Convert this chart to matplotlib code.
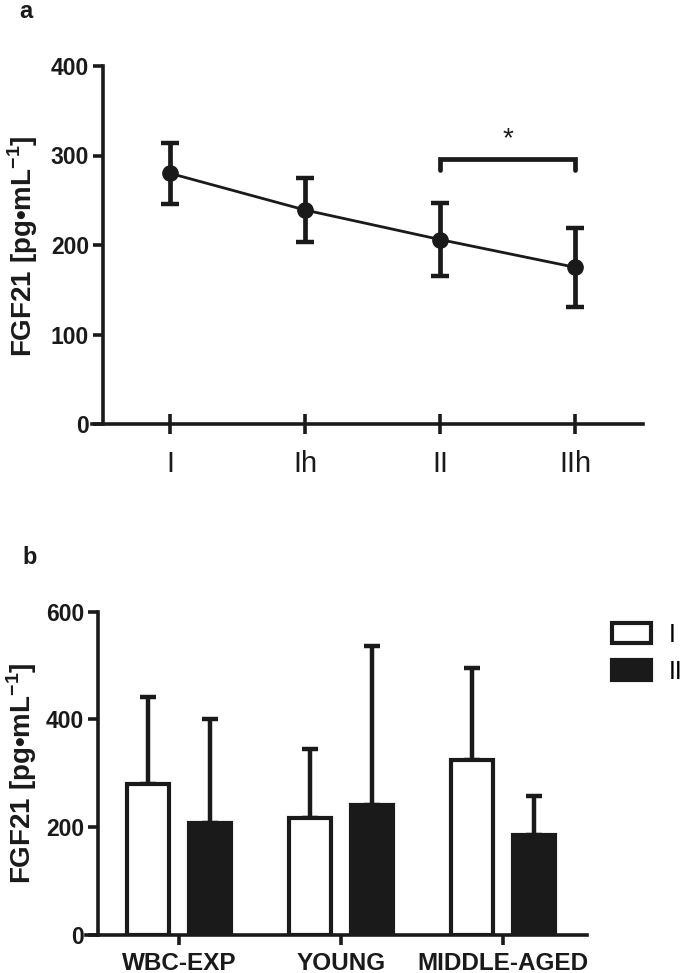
import matplotlib
matplotlib.use("Agg")
import matplotlib.pyplot as plt
import numpy as np

# panel a: time points, mean +/- error
time_labels = ["I", "Ih", "II", "IIh"]
time_mean = [280, 239, 206, 175]
time_err = [34, 36, 41, 44]

# panel b: groups, session I vs II (mean + upper error)
groups = ["WBC-EXP", "YOUNG", "MIDDLE-AGED"]
sess_i_mean = [280, 218, 325]
sess_i_err = [161, 127, 171]
sess_ii_mean = [208, 241, 185]
sess_ii_err = [192, 295, 73]

_INK = "#1a1a1a"

plt.rcParams["font.family"] = ["Liberation Sans", "DejaVu Sans"]
plt.rcParams["mathtext.fontset"] = "custom"
plt.rcParams["mathtext.rm"] = "Liberation Sans"
plt.rcParams["mathtext.bf"] = "Liberation Sans:bold"

YLABEL = "FGF21 [pg\u2022mL$^{\\mathbf{-1}}$]"

fig = plt.figure(figsize=(6.85, 9.73), dpi=100)


def _axes_style(a):
    a.spines["left"].set_position(("data", -0.5))
    a.spines["top"].set_visible(False)
    a.spines["right"].set_visible(False)
    for s in ("left", "bottom"):
        a.spines[s].set_linewidth(2.6)
        a.spines[s].set_color(_INK)
    a.tick_params(axis="y", direction="out", length=7, width=2.6, color=_INK,
                  pad=3, labelsize=16.5)
    for lbl in a.get_yticklabels():
        lbl.set_fontweight("bold")
        lbl.set_color(_INK)


# ---------- panel a ----------
ax = fig.add_axes([92 / 685, (973 - 424) / 973, 551 / 685, 358 / 973])
x = np.arange(len(time_labels))
ax.errorbar(x, time_mean, yerr=time_err, color=_INK, lw=2, elinewidth=3.4,
            capsize=6.5, capthick=3.2, marker="o", markersize=11, clip_on=False,
            zorder=3)
ax.set_xlim(-0.58, 3.5)
ax.set_ylim(0, 400)
ax.set_yticks([0, 100, 200, 300, 400])
ax.set_xticks(x)
ax.set_xticklabels(time_labels, fontsize=21, color=_INK)
ax.tick_params(axis="x", direction="inout", length=14, width=2.6, color=_INK, pad=12)
_axes_style(ax)
fig.text(23 / 685, 1 - 246 / 973, YLABEL, rotation=90, fontsize=20,
         fontweight="bold", color=_INK, ha="center", va="center")

# significance bracket II vs IIh
ax.plot([2, 2, 3, 3], [284, 296, 296, 284], color=_INK, lw=3.4,
        solid_capstyle="round", solid_joinstyle="miter", clip_on=False)
ax.text(2.5, 318, "*", ha="center", va="center", fontsize=20, color=_INK)

fig.text(19 / 685, 1 - 12 / 973, "a", fontsize=17, fontweight="bold",
         color=_INK, ha="left", va="center")

# ---------- panel b ----------
bx = fig.add_axes([86 / 685, (973 - 935) / 973, 501 / 685, 323.3 / 973])
g = np.arange(len(groups))
off = 0.19
w = 0.26
bx.bar(g - off, sess_i_mean, width=w, color="white", edgecolor=_INK,
       linewidth=3, label="I", zorder=2)
bx.bar(g + off, sess_ii_mean, width=w, color=_INK, edgecolor=_INK,
       linewidth=3, label="II", zorder=2)
bx.errorbar(g - off, sess_i_mean, yerr=[np.zeros(3), sess_i_err], fmt="none",
            ecolor=_INK, elinewidth=3.2, capsize=5.5, capthick=3.2, zorder=1,
            clip_on=False)
bx.errorbar(g + off, sess_ii_mean, yerr=[np.zeros(3), sess_ii_err], fmt="none",
            ecolor=_INK, elinewidth=3.2, capsize=5.5, capthick=3.2, zorder=1,
            clip_on=False)
bx.set_xlim(-0.574, 2.52)
bx.set_ylim(0, 600)
bx.set_yticks([0, 200, 400, 600])
bx.set_xticks(g)
bx.set_xticklabels(groups, fontsize=17.5, fontweight="bold", color=_INK)
bx.tick_params(axis="x", direction="out", length=7, width=2.6, color=_INK, pad=5)
_axes_style(bx)
fig.text(22 / 685, 1 - 773 / 973, YLABEL, rotation=90, fontsize=20,
         fontweight="bold", color=_INK, ha="center", va="center")
leg = bx.legend(loc="upper left", bbox_to_anchor=(1.05, 0.965), frameon=False,
                prop={"size": 18}, handlelength=1.55, handleheight=0.85,
                handletextpad=0.7, labelspacing=0.5, borderaxespad=0,
                borderpad=0)

fig.text(22 / 685, 1 - 557 / 973, "b", fontsize=17, fontweight="bold",
         color=_INK, ha="left", va="center")

fig.savefig("out.png", dpi=100, facecolor="white")
